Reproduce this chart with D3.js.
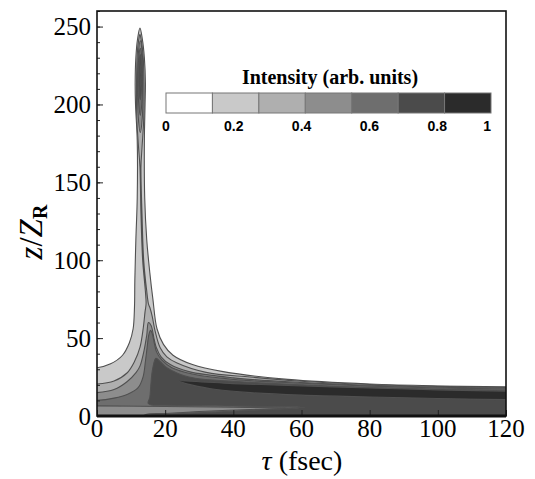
<!DOCTYPE html>
<html>
<head>
<meta charset="utf-8">
<script src="https://cdn.jsdelivr.net/npm/d3@7"></script>
<style>
  body { margin: 0; background: #ffffff; }
  svg { display: block; }
</style>
</head>
<body>
<div id="chart"></div>
<script>
/** Axis ticks */
var tauTicks = [0, 20, 40, 60, 80, 100, 120];
var zTicks = [0, 50, 100, 150, 200, 250];
var legendTicks = [0, 0.2, 0.4, 0.6, 0.8, 1];
var legendLevels = [0, 1, 2, 3, 4, 5, 6];

/** Contour boundaries, as [tau (fsec), z/ZR] rings, one array per level */
var contour1 = [
  [[-5,-5],[-5,31],[0,31],[4,33.5],[7.5,39],[9.5,47],[10.6,56],[11.0,70],[11.1,87],[11.4,113],[11.8,140],
   [11.8,177],[11.3,200],[11.2,214],[11.4,230],[11.9,242],[12.6,249],[13.3,242],[13.9,230],[14.2,214],
   [14.1,200],[13.9,177],[14.0,140],[14.6,113],[15.5,92],[16.4,75],[17.6,56],[19.5,46],[22.3,39],[28,33],
   [37,28.5],[56,23.5],[80,20.5],[100,19.3],[120,18.7],[125,18.6],[125,-5]]
];
var contour2 = [
  [[-5,-5],[-5,20.5],[0,20.5],[5,22.5],[8.8,27.6],[11,35],[12.6,44],[13.6,57],[14.1,67],[14.4,72],[14.2,80],
   [13.4,100],[12.9,130],[12.6,160],[12.2,172],[11.7,190],[11.6,214],[11.8,232],[12.2,241],[12.6,245],
   [13.0,241],[13.5,232],[13.8,214],[13.7,190],[13.2,172],[12.9,160],[13.2,130],[13.7,100],[14.6,80],
   [15.1,72],[15.6,69],[16.2,64],[17,55],[18.5,44],[20.5,38],[23.5,34],[32,28],[45,25],[60,22.3],[80,20.2],
   [100,19],[120,18.3],[125,18.2],[125,-5]]
];
var contour3 = [
  [[-5,-5],[-5,15],[0,15],[5,17],[8.8,22],[11.5,28],[12.6,32],[13.8,42],[14.6,52],[15.1,60],[15.9,58],
   [16.7,50],[17.4,44],[18.8,38],[21.5,33],[27,28.5],[40,24.5],[60,21.5],[80,19.7],[100,18.5],[120,17.8],
   [125,17.7],[125,-5]],
  [[12.7,182],[12.1,192],[11.9,214],[12.1,232],[12.7,241],[13.3,232],[13.5,214],[13.3,192]]
];
var contour4 = [
  [[-5,10],[0,10],[5,11.5],[9,14],[12,18],[13.5,25],[14.2,35],[14.7,44],[15.2,52],[15.7,55],[16.2,53],
   [16.8,47],[17.5,41],[19,36],[22,31],[28,27],[40,23.5],[60,21],[80,19.2],[100,18],[120,17.3],[125,17.2],
   [125,-5],[11,-5],[14,0.6],[20,1.6],[30,2.9],[45,4.2],[58,5.0],[55,5.2],[40,5.6],[20,6.1],[0,6.5],[-5,6.5]],
  [[12.7,193],[12.2,202],[12.05,214],[12.2,229],[12.7,236],[13.2,229],[13.35,214],[13.2,202]]
];
var contour5 = [
  [[17.3,37],[16.3,30],[15.8,20],[15.5,12],[15,8.2],[16,7.1],[20,6.9],[40,6.4],[55,5.9],[61,5.5],[45,3.6],
   [30,2.1],[20,0.9],[15,0],[14.5,-5],[125,-5],[125,16.5],[120,16.5],[100,17.2],[80,18.3],[60,20],[42,22],
   [27,25],[20.5,31],[18.5,35]],
  [[12.7,203],[12.35,210],[12.3,219],[12.4,228],[12.7,232],[13.0,228],[13.1,219],[13.05,210]]
];
var contour6 = [
  [[24,22.5],[30,22],[40,20.8],[56,19.6],[80,18],[100,16.8],[120,16],[125,16],[125,10.5],[120,10.5],
   [100,11.2],[80,12.2],[60,13.4],[45,15],[35,17],[28,19.8]],
  [[12.7,210],[12.55,215],[12.55,222],[12.7,226],[12.85,222],[12.85,215]]
];

var contourLevels = [
  { level: 1, rings: contour1 },
  { level: 2, rings: contour2 },
  { level: 3, rings: contour3 },
  { level: 4, rings: contour4 },
  { level: 5, rings: contour5 },
  { level: 6, rings: contour6 }
];

var width = 535, height = 479;
var margin = { left: 97, top: 11, right: 29, bottom: 63 };
var plotW = width - margin.left - margin.right;
var plotH = height - margin.top - margin.bottom;

var svg = d3.select("#chart").append("svg")
  .attr("width", width)
  .attr("height", height);

var x = d3.scaleLinear().domain([0, 120]).range([margin.left, margin.left + plotW]);
var y = d3.scaleLinear().domain([0, 260]).range([margin.top + plotH, margin.top]);

/** Gray shade of each intensity band, white is the lowest */
var shade = d3.scaleOrdinal()
  .domain(legendLevels)
  .range(["#ffffff", "#c9c9c9", "#afafaf", "#8d8d8d", "#6e6e6e", "#4b4b4b", "#2b2b2b"]);

svg.append("clipPath").attr("id", "plotClip")
  .append("rect")
  .attr("x", margin.left).attr("y", margin.top)
  .attr("width", plotW).attr("height", plotH);

/** Filled contour bands, painted from the outer level inward */
var ring = d3.line()
  .x(function(d) { return x(d[0]); })
  .y(function(d) { return y(d[1]); })
  .curve(d3.curveCatmullRomClosed.alpha(0.5));

var bands = svg.append("g").attr("clip-path", "url(#plotClip)");
contourLevels.forEach(function(c) {
  bands.selectAll(null)
    .data(c.rings)
    .enter().append("path")
    .attr("d", ring)
    .attr("fill", shade(c.level))
    .attr("stroke", "#505050")
    .attr("stroke-width", 1.1)
    .attr("stroke-linejoin", "round");
});

/** Axes with ticks on the inside */
var serif = "'Liberation Serif', 'Times New Roman', serif";

svg.append("g")
  .attr("transform", "translate(" + margin.left + ",0)")
  .call(d3.axisRight(y).tickValues(zTicks).tickSize(6).tickFormat(""));
svg.append("g")
  .attr("transform", "translate(" + margin.left + ",0)")
  .call(d3.axisRight(y).ticks(26).tickSize(3).tickFormat(""));

svg.append("g")
  .attr("transform", "translate(0," + (margin.top + plotH) + ")")
  .call(d3.axisTop(x).tickValues(tauTicks).tickSize(6).tickFormat(""));

svg.selectAll(".tick line").attr("stroke", "#222");
svg.selectAll(".domain").remove();

svg.append("g").selectAll("text")
  .data(zTicks)
  .enter().append("text")
  .attr("x", margin.left - 6)
  .attr("y", function(d) { return y(d); })
  .attr("dy", "0.35em")
  .attr("text-anchor", "end")
  .style("font-family", serif)
  .style("font-size", "25px")
  .text(function(d) { return d; });

svg.append("g").selectAll("text")
  .data(tauTicks)
  .enter().append("text")
  .attr("x", function(d) { return x(d); })
  .attr("y", margin.top + plotH + 21)
  .attr("text-anchor", "middle")
  .style("font-family", serif)
  .style("font-size", "25px")
  .text(function(d) { return d; });

/** Frame */
svg.append("rect")
  .attr("x", margin.left).attr("y", margin.top)
  .attr("width", plotW).attr("height", plotH)
  .attr("fill", "none")
  .attr("stroke", "#111")
  .attr("stroke-width", 1.6);
svg.append("line")
  .attr("x1", margin.left).attr("x2", margin.left + plotW)
  .attr("y1", margin.top + plotH).attr("y2", margin.top + plotH)
  .attr("stroke", "#111").attr("stroke-width", 3);

/** Axis titles */
var xTitle = svg.append("text")
  .attr("x", 302).attr("y", 470)
  .attr("text-anchor", "middle")
  .style("font-family", serif)
  .style("font-size", "28px");
xTitle.append("tspan").style("font-style", "italic").text("τ");
xTitle.append("tspan").text(" (fsec)");

var yTitle = svg.append("text")
  .attr("transform", "translate(42,232) rotate(-90)")
  .attr("text-anchor", "middle")
  .style("font-family", serif)
  .style("font-size", "33px");
yTitle.append("tspan").style("font-style", "italic").text("z");
yTitle.append("tspan").text("/");
yTitle.append("tspan").style("font-style", "italic").text("Z");
yTitle.append("tspan").attr("dy", "0.25em").style("font-size", "20px").style("font-weight", "bold").text("R");

/** Intensity legend */
var legendX = d3.scaleBand().domain(legendLevels).range([166, 491]).padding(0);
var legendTickX = d3.scaleLinear().domain([0, 1]).range([166, 505]);

var legend = svg.append("g");
legend.append("text")
  .attr("x", 330).attr("y", 84)
  .attr("text-anchor", "middle")
  .style("font-family", serif)
  .style("font-size", "20px")
  .style("font-weight", "bold")
  .text("Intensity (arb. units)");

legend.selectAll("rect")
  .data(legendLevels)
  .enter().append("rect")
  .attr("x", function(d) { return legendX(d); })
  .attr("y", 93)
  .attr("width", legendX.bandwidth())
  .attr("height", 20)
  .attr("fill", function(d) { return shade(d); })
  .attr("stroke", "#777")
  .attr("stroke-width", 1);

legend.selectAll("text.lab")
  .data(legendTicks)
  .enter().append("text")
  .attr("class", "lab")
  .attr("x", function(d) { return d === 1 ? 491 : legendTickX(d); })
  .attr("y", 131)
  .attr("text-anchor", function(d) { return d === 1 ? "end" : "middle"; })
  .style("font-family", "'Liberation Sans', Arial, sans-serif")
  .style("font-size", "14px")
  .style("font-weight", "bold")
  .text(function(d) { return d; });
</script>
</body>
</html>
